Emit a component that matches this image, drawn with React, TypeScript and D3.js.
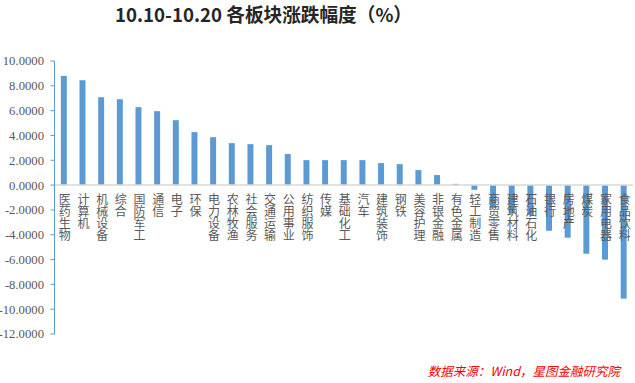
import React from 'react';
import * as d3 from 'd3';

const categories = ['医药生物','计算机','机械设备','综合','国防军工','通信','电子','环保','电力设备','农林牧渔','社会服务','交通运输','公用事业','纺织服饰','传媒','基础化工','汽车','建筑装饰','钢铁','美容护理','非银金融','有色金属','轻工制造','商贸零售','建筑材料','石油石化','银行','房地产','煤炭','家用电器','食品饮料'];
const values = [8.80, 8.45, 7.08, 6.92, 6.28, 5.96, 5.23, 4.27, 3.86, 3.38, 3.30, 3.22, 2.50, 2.01, 2.01, 2.01, 2.01, 1.77, 1.69, 1.21, 0.81, 0.10, -0.38, -1.85, -2.25, -2.40, -3.68, -4.24, -5.53, -6.01, -9.15];
const yTicks = [10, 8, 6, 4, 2, 0, -2, -4, -6, -8, -10, -12];
const title = '10.10-10.20 各板块涨跌幅度（%）';
const source = '数据来源：Wind，星图金融研究院';

const W = 635, H = 383;

export default function App() {
  const y = d3.scaleLinear().domain([-12, 10]).range([334, 61]);
  const x = d3.scaleBand<string>().domain(categories).range([54.5, 633]).paddingInner(0.68).paddingOuter(0.34);
  const axisX = 54.5;
  const cjk = '"Noto Sans CJK SC", "Noto Sans", sans-serif';
  return (
    <svg width={W} height={H} style={{ position: 'absolute', left: 0, top: 0, background: '#fff' }}>
      <text x={115} y={22} fontFamily={cjk} fontWeight={700} fontSize={19} fill="#262626" textLength={297} lengthAdjust="spacingAndGlyphs">{title}</text>
      {categories.map((c, i) => {
        const v = values[i];
        const x0 = x(c)!;
        return (
          <rect key={c} x={x0} width={x.bandwidth()} y={Math.min(y(v), y(0))} height={Math.abs(y(v) - y(0))} fill="#5B9BD5" />
        );
      })}
      <line x1={axisX} x2={633} y1={y(0)} y2={y(0)} stroke="#D9D9D9" strokeWidth={1.5} />
      <line x1={axisX} x2={axisX} y1={y(10)} y2={y(-12)} stroke="#5B9BD5" strokeWidth={1} />
      {yTicks.map(t => (
        <g key={t}>
          <line x1={axisX - 4} x2={axisX} y1={y(t)} y2={y(t)} stroke="#5B9BD5" strokeWidth={1} />
          <text x={44} y={y(t)} dy="0.35em" textAnchor="end" fontFamily='"Liberation Serif", "Times New Roman", serif' fontSize={12.7} fill="#595959">{t.toFixed(4)}</text>
        </g>
      ))}
      {categories.map((c) => {
        const cx = x(c)! + x.bandwidth() / 2 + 1;
        return Array.from(c).map((ch, j) => (
          <text key={c + j} x={cx} y={193 + j * 12.3 + 10.5} textAnchor="middle" fontFamily={cjk} fontSize={12} fill="#595959">{ch}</text>
        ));
      })}
      <text x={620} y={376} textAnchor="end" fontFamily={cjk} fontStyle="italic" fontSize={12.5} fill="#FF0000">{source}</text>
    </svg>
  );
}
